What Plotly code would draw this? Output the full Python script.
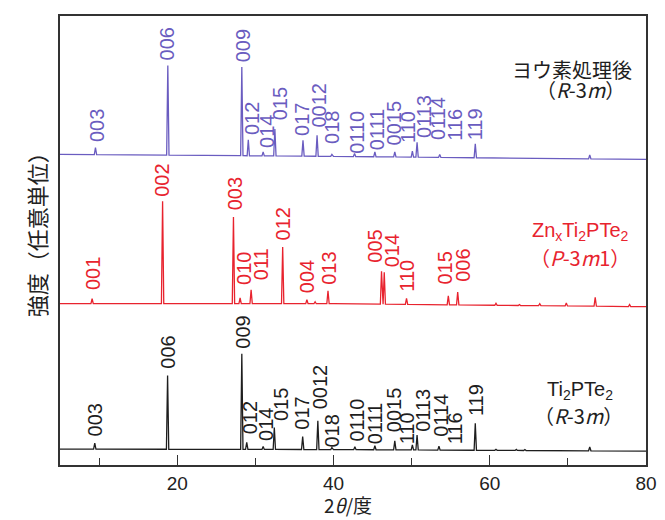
import numpy as np
import plotly.graph_objects as go

# ---------------- data ----------------
x_range = [5, 80]
x_major_ticks = [20, 40, 60, 80]
x_minor_ticks = [10, 30, 50, 70]

# Ti2PTe2 (R-3m)  -- bottom pattern
ti_peak_pos = [9.45, 18.77, 28.27, 28.9, 31.0, 32.43, 36.06, 38.0, 39.8, 42.74,
               45.3, 47.85, 50.1, 50.7, 53.5, 58.15, 60.8, 63.4, 64.5, 72.8]
ti_peak_int = [6, 74, 96, 7, 3, 22, 13, 29, 2, 3,
               4, 9, 5, 15, 4, 27, 1, 1, 1, 4]
ti_base_x = [5, 40, 80]
ti_base_y = [16, 15.5, 14]
ti_labels = ["003", "006", "009", "012", "014", "015", "017", "0012", "018", "0110",
             "0111", "0015", "110", "0113", "0114", "116", "119"]
ti_label_x = [9.45, 18.79, 28.38, 29.27, 31.28, 33.2, 35.97, 38.22, 39.81, 43.0,
              45.35, 47.69, 49.44, 51.36, 53.66, 55.58, 58.22]
ti_label_y = [28, 96, 116, 30, 23, 43, 35, 55, 17, 23,
              20, 32, 20, 32, 27, 20, 48]

# ZnxTi2PTe2 (P-3m1) -- middle pattern
zn_peak_pos = [9.11, 18.13, 27.2, 28.05, 29.46, 33.5, 36.6, 37.65, 39.3, 46.15,
               46.5, 49.35, 54.7, 55.9, 60.8, 63.8, 66.4, 69.8, 73.5, 77.9]
zn_peak_int = [5, 103, 87, 6, 14, 57, 4, 2, 13, 33,
               32, 6, 9, 13, 2, 1, 2, 3, 9, 2]
zn_base_x = [5, 40, 80]
zn_base_y = [162, 162, 159]
zn_labels = ["001", "002", "003", "010", "011", "012", "004", "013", "005", "014",
             "110", "015", "006"]
zn_label_x = [9.32, 18.07, 27.35, 28.63, 30.64, 33.54, 36.61, 39.5, 45.35, 47.48,
              49.4, 54.3, 56.64]
zn_label_y = [175, 268, 255, 180, 185, 225, 172, 180, 202, 198,
              173, 180, 183]

# after iodine treatment (R-3m) -- top pattern
io_peak_pos = [9.54, 18.8, 28.27, 29.1, 31.0, 32.5, 36.1, 37.9, 39.8, 42.7,
               45.3, 47.85, 50.1, 50.7, 53.6, 58.15, 72.8]
io_peak_int = [7, 90, 89, 16, 4, 27, 16, 21, 2, 3,
               5, 5, 6, 15, 3, 14, 4]
io_base_x = [5, 40, 80]
io_base_y = [312, 310, 307]
io_labels = ["003", "006", "009", "012", "014", "015", "017", "0012", "018", "0110",
             "0111", "0015", "110", "0113", "0114", "116", "119"]
io_label_x = [9.76, 18.71, 28.43, 29.58, 31.5, 33.2, 35.97, 38.1, 39.81, 43.0,
              45.56, 47.69, 49.6, 51.6, 53.4, 55.58, 58.22]
io_label_y = [323, 405, 403, 330, 317, 345, 330, 338, 322, 312,
              315, 320, 323, 327, 325, 325, 325]

# ---------------- styles ----------------
C_IO = "#6a5cc0"
C_ZN = "#e8232e"
C_TI = "#1e1e1e"
FONT = "Liberation Sans, Arial, Noto Sans CJK JP"
JFONT = "Noto Sans CJK JP, Liberation Sans"
HW = 0.15  # peak half width (drawing style)


def pattern(pos, inten, bx, by):
    xs = list(bx)
    ys = list(by)
    for p, h in zip(pos, inten):
        for dx, frac in ((-HW, 0), (0, 1), (HW, 0)):
            x = p + dx
            xs.append(x)
            ys.append(float(np.interp(x, bx, by)) + frac * h)
    order = np.argsort(xs, kind="stable")
    return np.array(xs)[order], np.array(ys)[order]


fig = go.Figure()
for pos, inten, bx, by, col in (
    (ti_peak_pos, ti_peak_int, ti_base_x, ti_base_y, C_TI),
    (zn_peak_pos, zn_peak_int, zn_base_x, zn_base_y, C_ZN),
    (io_peak_pos, io_peak_int, io_base_x, io_base_y, C_IO),
):
    x, y = pattern(pos, inten, bx, by)
    fig.add_trace(go.Scatter(x=x, y=y, mode="lines",
                             line=dict(color=col, width=1.3),
                             hoverinfo="skip", showlegend=False))

annotations = []
for labels, lx, ly, col in (
    (ti_labels, ti_label_x, ti_label_y, C_TI),
    (zn_labels, zn_label_x, zn_label_y, C_ZN),
    (io_labels, io_label_x, io_label_y, C_IO),
):
    for t, x, y in zip(labels, lx, ly):
        annotations.append(dict(x=x, y=y, xref="x", yref="y", text=t,
                                textangle=-90, showarrow=False,
                                xanchor="center", yanchor="bottom",
                                borderpad=0,
                                font=dict(family=FONT, size=20, color=col)))

# series names
series_text = [
    ("ヨウ素処理後", 70.54, 397, C_TI, JFONT),
    ("（<i>R</i>-3<i>m</i>）", 71.56, 377, C_TI, JFONT),
    ("Zn<sub>x</sub>Ti<sub>2</sub>PTe<sub>2</sub>", 71.56, 235, C_ZN, FONT),
    ("（<i>P</i>-3<i>m</i>1）", 71.56, 208, C_ZN, JFONT),
    ("Ti<sub>2</sub>PTe<sub>2</sub>", 71.56, 75, C_TI, FONT),
    ("（<i>R</i>-3<i>m</i>）", 71.3, 50, C_TI, JFONT),
]
for t, x, y, col, fam in series_text:
    annotations.append(dict(x=x, y=y, xref="x", yref="y", text=t,
                            showarrow=False, xanchor="center", yanchor="middle",
                            font=dict(family=fam, size=20, color=col)))

# axis titles
annotations.append(dict(x=-0.041, y=0.525, xref="paper", yref="paper",
                        text="強度（任意単位）", textangle=-90, showarrow=False,
                        xanchor="center", yanchor="middle",
                        font=dict(family=JFONT, size=22, color="#222")))
annotations.append(dict(x=0.492, y=-0.089, xref="paper", yref="paper",
                        text="2<i>θ</i>/度", showarrow=False,
                        xanchor="center", yanchor="middle",
                        font=dict(family=JFONT, size=19, color="#222")))

# the page body has an 8 px margin, so the figure is sized to end at the window edge
fig.update_layout(
    width=657, height=512,
    margin=dict(l=52, r=19, t=6, b=55),
    paper_bgcolor="white", plot_bgcolor="white",
    annotations=annotations,
    showlegend=False,
)
fig.update_xaxes(range=x_range, showline=True, mirror=True, linecolor="#333",
                 linewidth=1.5, showgrid=False, zeroline=False,
                 ticks="inside", tickvals=x_major_ticks, ticklen=10,
                 tickwidth=1.3, tickcolor="#333",
                 minor=dict(tickvals=x_minor_ticks, ticks="inside", ticklen=7,
                            tickwidth=1.3, tickcolor="#333"),
                 tickfont=dict(family=FONT, size=19, color="#222"))
fig.update_yaxes(range=[0, 451], showline=True, mirror=True, linecolor="#333",
                 linewidth=1.5, showgrid=False, zeroline=False,
                 showticklabels=False, ticks="")

fig.write_html("out.html")
